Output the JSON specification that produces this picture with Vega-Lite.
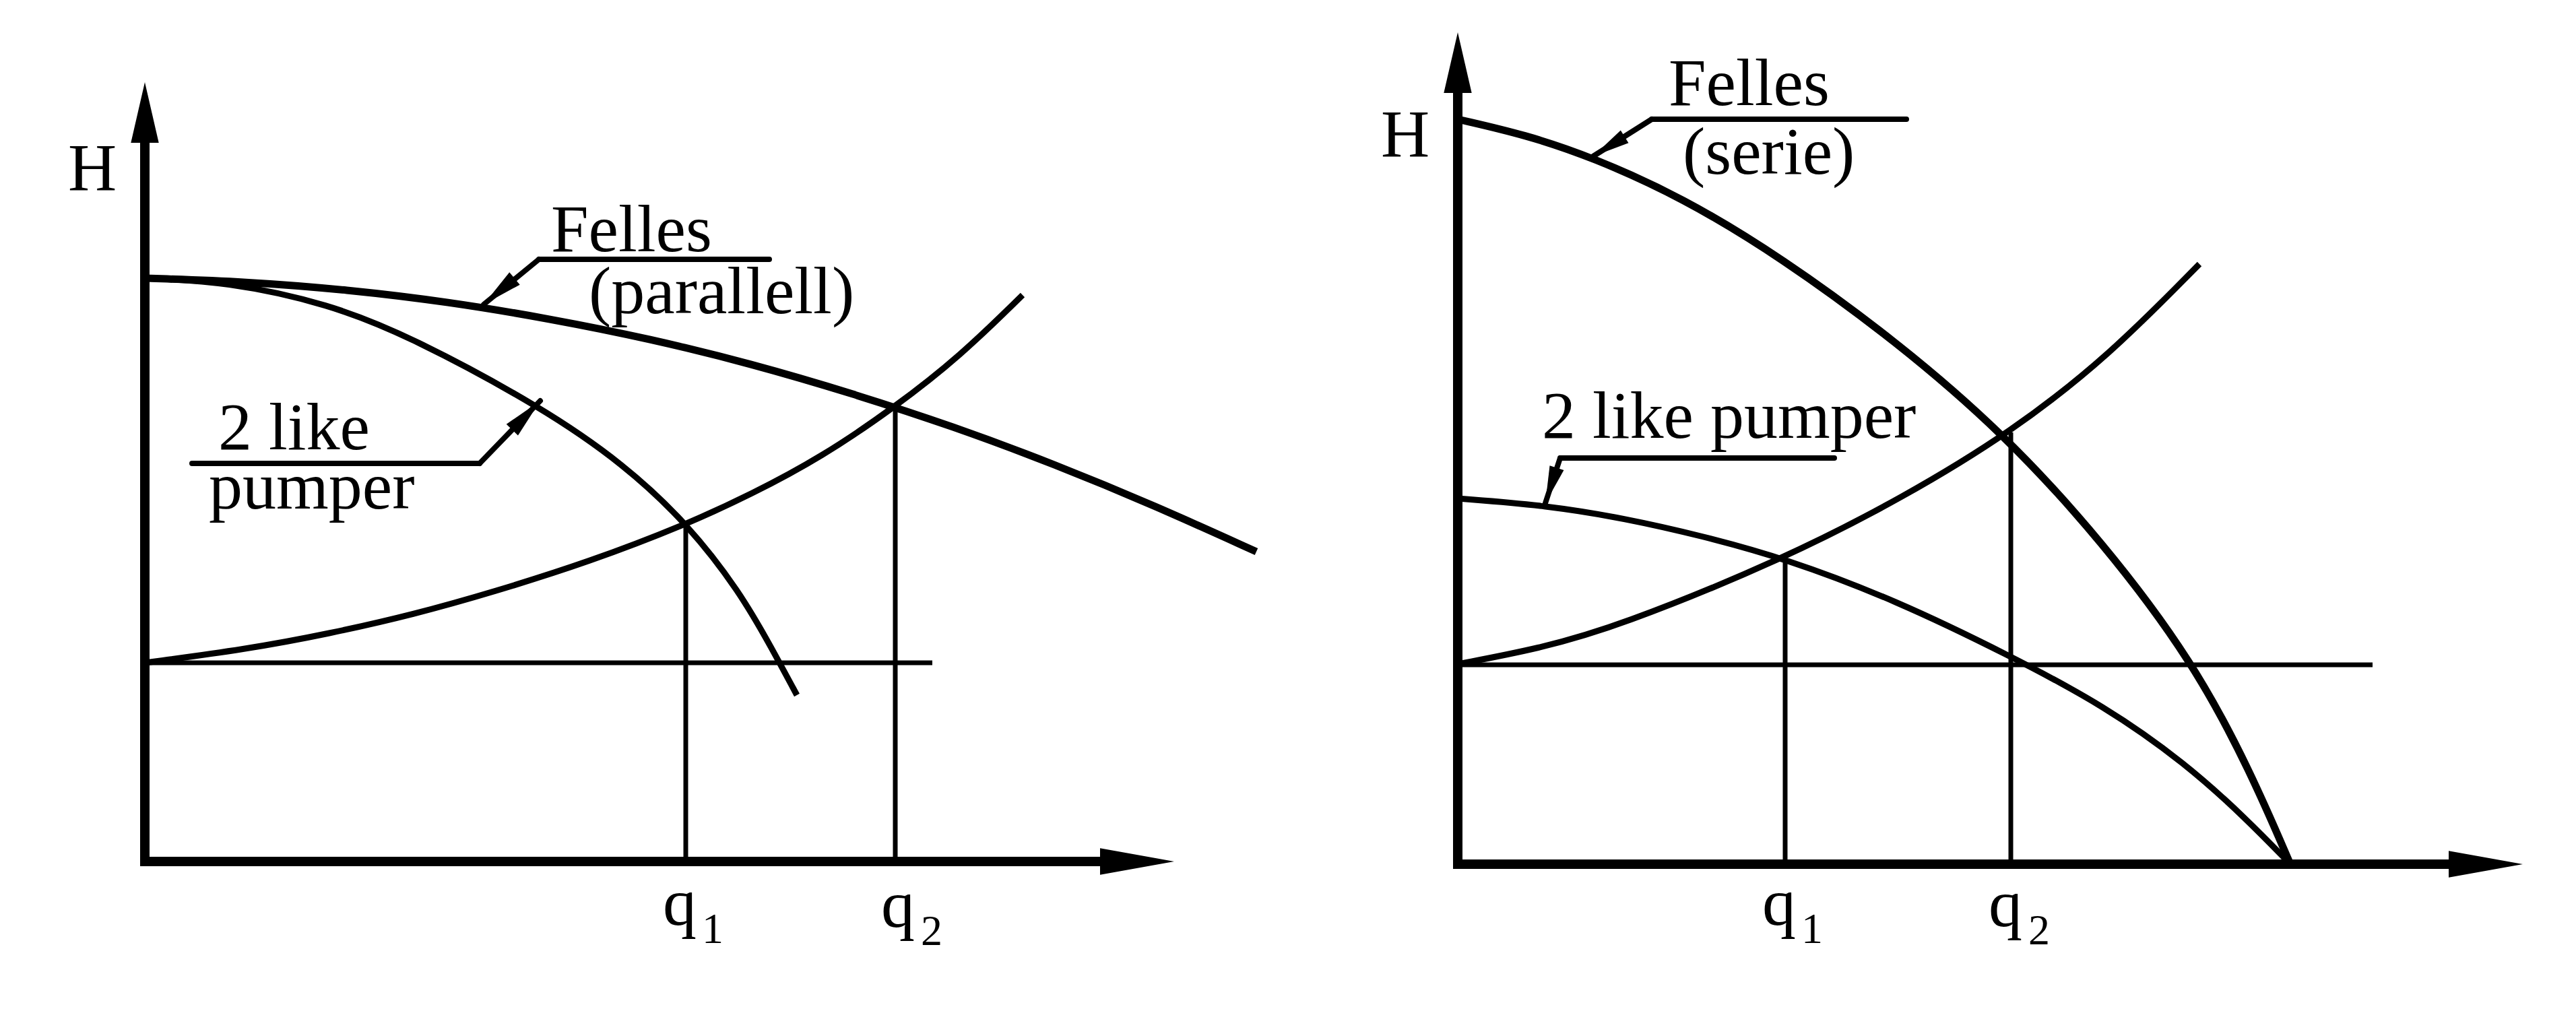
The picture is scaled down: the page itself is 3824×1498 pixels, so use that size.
{
  "$schema": "https://vega.github.io/schema/vega-lite/v6.json",
  "padding": 0,
  "autosize": {"type": "pad"},
  "background": "white",
  "spacing": 0,
  "config": {"view": {"stroke": null}, "concat": {"spacing": 0}},
  "resolve": {"scale": {"x": "independent", "y": "independent"}},
  "datasets": {
    "L_curves": [
      {"curve": "felles", "Q": 0, "H": 8.66}, {"curve": "felles", "Q": 1.5, "H": 8.61}, {"curve": "felles", "Q": 3, "H": 8.49}, {"curve": "felles", "Q": 4.5, "H": 8.31}, {"curve": "felles", "Q": 6, "H": 8.06}, {"curve": "felles", "Q": 7.5, "H": 7.76}, {"curve": "felles", "Q": 9, "H": 7.39}, {"curve": "felles", "Q": 10.5, "H": 6.95}, {"curve": "felles", "Q": 12, "H": 6.46}, {"curve": "felles", "Q": 13.5, "H": 5.90}, {"curve": "felles", "Q": 15, "H": 5.28}, {"curve": "felles", "Q": 16.5, "H": 4.60},
      {"curve": "pump", "Q": 0, "H": 8.66}, {"curve": "pump", "Q": 1.2, "H": 8.61}, {"curve": "pump", "Q": 2.73, "H": 8.28}, {"curve": "pump", "Q": 3.95, "H": 7.79}, {"curve": "pump", "Q": 5.90, "H": 6.74}, {"curve": "pump", "Q": 7.12, "H": 5.89}, {"curve": "pump", "Q": 8.04, "H": 5.03}, {"curve": "pump", "Q": 8.83, "H": 4.01}, {"curve": "pump", "Q": 9.31, "H": 3.16}, {"curve": "pump", "Q": 9.68, "H": 2.47},
      {"curve": "system", "Q": 0, "H": 2.95}, {"curve": "system", "Q": 1.5, "H": 3.15}, {"curve": "system", "Q": 2.73, "H": 3.38}, {"curve": "system", "Q": 4, "H": 3.67}, {"curve": "system", "Q": 5.17, "H": 4.00}, {"curve": "system", "Q": 6.6, "H": 4.45}, {"curve": "system", "Q": 8.03, "H": 5.00}, {"curve": "system", "Q": 9.0, "H": 5.45}, {"curve": "system", "Q": 10.04, "H": 6.00}, {"curve": "system", "Q": 11.14, "H": 6.75}, {"curve": "system", "Q": 12.1, "H": 7.50}, {"curve": "system", "Q": 13.03, "H": 8.41}
    ],
    "L_segs": [
      {"kind": "axis", "Q": 0, "H": 0, "Q2": 0, "H2": 10.75},
      {"kind": "axis", "Q": 0, "H": 0, "Q2": 14.3, "H2": 0},
      {"kind": "guide", "Q": 0, "H": 2.95, "Q2": 11.69, "H2": 2.95},
      {"kind": "guide", "Q": 8.03, "H": 0, "Q2": 8.03, "H2": 5.00},
      {"kind": "guide", "Q": 11.14, "H": 0, "Q2": 11.14, "H2": 6.75},
      {"kind": "leader", "Q": 5.85, "H": 8.94, "Q2": 9.27, "H2": 8.94},
      {"kind": "leader", "Q": 5.85, "H": 8.94, "Q2": 5.03, "H2": 8.27},
      {"kind": "leader", "Q": 0.70, "H": 5.91, "Q2": 4.97, "H2": 5.91},
      {"kind": "leader", "Q": 4.97, "H": 5.91, "Q2": 5.87, "H2": 6.84}
    ],
    "L_arrows": [
      {"kind": "yaxis", "Q": 0, "H": 11.57, "angle": 0},
      {"kind": "xaxis", "Q": 15.28, "H": 0, "angle": 0},
      {"kind": "leader", "Q": 5.03, "H": 8.27, "angle": 230},
      {"kind": "leader", "Q": 5.87, "H": 6.84, "angle": 44}
    ],
    "L_text": [
      {"t": "H", "Q": -1.14, "H": 9.97, "role": "main"},
      {"t": "q", "Q": 7.69, "H": -0.94, "role": "main"},
      {"t": "1", "Q": 8.27, "H": -1.21, "role": "sub"},
      {"t": "q", "Q": 10.93, "H": -0.97, "role": "main"},
      {"t": "2", "Q": 11.52, "H": -1.24, "role": "sub"},
      {"t": "Felles", "Q": 6.03, "H": 9.06, "role": "main"},
      {"t": "(parallell)", "Q": 6.59, "H": 8.14, "role": "main"},
      {"t": "2 like", "Q": 1.09, "H": 6.12, "role": "main"},
      {"t": "pumper", "Q": 0.95, "H": 5.24, "role": "main"}
    ],
    "R_curves": [
      {"curve": "felles", "Q": 0, "H": 11.06}, {"curve": "felles", "Q": 1.0, "H": 10.83}, {"curve": "felles", "Q": 1.99, "H": 10.50}, {"curve": "felles", "Q": 3.33, "H": 9.90}, {"curve": "felles", "Q": 4.80, "H": 9.01}, {"curve": "felles", "Q": 6.50, "H": 7.77}, {"curve": "felles", "Q": 8.09, "H": 6.41}, {"curve": "felles", "Q": 9.58, "H": 4.78}, {"curve": "felles", "Q": 10.92, "H": 3.00}, {"curve": "felles", "Q": 11.77, "H": 1.37}, {"curve": "felles", "Q": 12.36, "H": 0},
      {"curve": "pump", "Q": 0, "H": 5.43}, {"curve": "pump", "Q": 1.3, "H": 5.33}, {"curve": "pump", "Q": 2.5, "H": 5.13}, {"curve": "pump", "Q": 3.6, "H": 4.88}, {"curve": "pump", "Q": 4.86, "H": 4.54}, {"curve": "pump", "Q": 6.5, "H": 3.92}, {"curve": "pump", "Q": 8.21, "H": 3.09}, {"curve": "pump", "Q": 9.6, "H": 2.35}, {"curve": "pump", "Q": 10.8, "H": 1.50}, {"curve": "pump", "Q": 11.7, "H": 0.68}, {"curve": "pump", "Q": 12.36, "H": 0},
      {"curve": "system", "Q": 0, "H": 2.97}, {"curve": "system", "Q": 1.2, "H": 3.20}, {"curve": "system", "Q": 2.36, "H": 3.52}, {"curve": "system", "Q": 4.86, "H": 4.54}, {"curve": "system", "Q": 6.62, "H": 5.45}, {"curve": "system", "Q": 8.21, "H": 6.41}, {"curve": "system", "Q": 9.67, "H": 7.55}, {"curve": "system", "Q": 11.01, "H": 8.91}
    ],
    "R_segs": [
      {"kind": "axis", "Q": 0, "H": 0, "Q2": 0, "H2": 11.5},
      {"kind": "axis", "Q": 0, "H": 0, "Q2": 14.8, "H2": 0},
      {"kind": "guide", "Q": 0, "H": 2.96, "Q2": 13.58, "H2": 2.96},
      {"kind": "guide", "Q": 4.86, "H": 0, "Q2": 4.86, "H2": 4.54},
      {"kind": "guide", "Q": 8.21, "H": 0, "Q2": 8.21, "H2": 6.41},
      {"kind": "leader", "Q": 2.88, "H": 11.06, "Q2": 6.66, "H2": 11.06},
      {"kind": "leader", "Q": 2.88, "H": 11.06, "Q2": 2.01, "H2": 10.51},
      {"kind": "leader", "Q": 1.52, "H": 6.03, "Q2": 5.59, "H2": 6.03},
      {"kind": "leader", "Q": 1.52, "H": 6.03, "Q2": 1.30, "H2": 5.36}
    ],
    "R_arrows": [
      {"kind": "yaxis", "Q": 0, "H": 12.35, "angle": 0},
      {"kind": "xaxis", "Q": 15.81, "H": 0, "angle": 0},
      {"kind": "leader", "Q": 2.01, "H": 10.51, "angle": 238},
      {"kind": "leader", "Q": 1.30, "H": 5.36, "angle": 198}
    ],
    "R_text": [
      {"t": "H", "Q": -1.14, "H": 10.51, "role": "main"},
      {"t": "q", "Q": 4.52, "H": -0.90, "role": "main"},
      {"t": "1", "Q": 5.10, "H": -1.17, "role": "sub"},
      {"t": "q", "Q": 7.88, "H": -0.92, "role": "main"},
      {"t": "2", "Q": 8.47, "H": -1.19, "role": "sub"},
      {"t": "Felles", "Q": 3.13, "H": 11.27, "role": "main"},
      {"t": "(serie)", "Q": 3.34, "H": 10.25, "role": "main"},
      {"t": "2 like pumper", "Q": 1.25, "H": 6.33, "role": "main"}
    ]
  },
  "hconcat": [
    {
      "width": 1912,
      "height": 1498,
      "encoding": {
        "x": {"field": "Q", "type": "quantitative", "scale": {"domain": [-2.15, 16.97], "nice": false, "zero": false}, "axis": null},
        "y": {"field": "H", "type": "quantitative", "scale": {"domain": [-2.19, 12.79], "nice": false, "zero": false}, "axis": null}
      },
      "layer": [
        {"data": {"name": "L_curves"}, "transform": [{"filter": "datum.curve === 'felles'"}], "mark": {"type": "line", "interpolate": "basis", "strokeWidth": 11, "color": "black"}, "encoding": {"detail": {"field": "curve"}}},
        {"data": {"name": "L_curves"}, "transform": [{"filter": "datum.curve !== 'felles'"}], "mark": {"type": "line", "interpolate": "basis", "strokeWidth": 9, "color": "black"}, "encoding": {"detail": {"field": "curve"}}},
        {"data": {"name": "L_segs"}, "transform": [{"filter": "datum.kind === 'axis'"}], "mark": {"type": "rule", "strokeWidth": 14, "color": "black", "strokeCap": "square"}, "encoding": {"x2": {"field": "Q2"}, "y2": {"field": "H2"}}},
        {"data": {"name": "L_segs"}, "transform": [{"filter": "datum.kind === 'guide'"}], "mark": {"type": "rule", "strokeWidth": 7, "color": "black"}, "encoding": {"x2": {"field": "Q2"}, "y2": {"field": "H2"}}},
        {"data": {"name": "L_segs"}, "transform": [{"filter": "datum.kind === 'leader'"}], "mark": {"type": "rule", "strokeWidth": 8, "color": "black", "strokeCap": "round"}, "encoding": {"x2": {"field": "Q2"}, "y2": {"field": "H2"}}},
        {"data": {"name": "L_arrows"}, "transform": [{"filter": "datum.kind === 'yaxis'"}], "mark": {"type": "point", "filled": true, "opacity": 1, "color": "black", "strokeWidth": 0, "shape": "M0,0 L0.46,2 L-0.46,2 Z", "size": 8100}},
        {"data": {"name": "L_arrows"}, "transform": [{"filter": "datum.kind === 'xaxis'"}], "mark": {"type": "point", "filled": true, "opacity": 1, "color": "black", "strokeWidth": 0, "shape": "M0,0 L-2,-0.36 L-2,0.36 Z", "size": 12100}},
        {"data": {"name": "L_arrows"}, "transform": [{"filter": "datum.kind === 'leader'"}], "mark": {"type": "point", "filled": true, "opacity": 1, "color": "black", "strokeWidth": 0, "shape": "M0,0 L0.4,2 L-0.4,2 Z", "size": 3600}, "encoding": {"angle": {"field": "angle", "type": "quantitative", "scale": null}}},
        {"data": {"name": "L_text"}, "transform": [{"filter": "datum.role === 'main'"}], "mark": {"type": "text", "align": "left", "baseline": "alphabetic", "font": "Liberation Serif", "fontSize": 100, "color": "black"}, "encoding": {"text": {"field": "t"}}},
        {"data": {"name": "L_text"}, "transform": [{"filter": "datum.role === 'sub'"}], "mark": {"type": "text", "align": "left", "baseline": "alphabetic", "font": "Liberation Serif", "fontSize": 64, "color": "black"}, "encoding": {"text": {"field": "t"}}}
      ]
    },
    {
      "width": 1912,
      "height": 1498,
      "encoding": {
        "x": {"field": "Q", "type": "quantitative", "scale": {"domain": [-2.52, 16.60], "nice": false, "zero": false}, "axis": null},
        "y": {"field": "H", "type": "quantitative", "scale": {"domain": [-2.15, 12.83], "nice": false, "zero": false}, "axis": null}
      },
      "layer": [
        {"data": {"name": "R_curves"}, "transform": [{"filter": "datum.curve === 'felles'"}], "mark": {"type": "line", "interpolate": "basis", "strokeWidth": 11, "color": "black"}, "encoding": {"detail": {"field": "curve"}}},
        {"data": {"name": "R_curves"}, "transform": [{"filter": "datum.curve !== 'felles'"}], "mark": {"type": "line", "interpolate": "basis", "strokeWidth": 9, "color": "black"}, "encoding": {"detail": {"field": "curve"}}},
        {"data": {"name": "R_segs"}, "transform": [{"filter": "datum.kind === 'axis'"}], "mark": {"type": "rule", "strokeWidth": 14, "color": "black", "strokeCap": "square"}, "encoding": {"x2": {"field": "Q2"}, "y2": {"field": "H2"}}},
        {"data": {"name": "R_segs"}, "transform": [{"filter": "datum.kind === 'guide'"}], "mark": {"type": "rule", "strokeWidth": 7, "color": "black"}, "encoding": {"x2": {"field": "Q2"}, "y2": {"field": "H2"}}},
        {"data": {"name": "R_segs"}, "transform": [{"filter": "datum.kind === 'leader'"}], "mark": {"type": "rule", "strokeWidth": 8, "color": "black", "strokeCap": "round"}, "encoding": {"x2": {"field": "Q2"}, "y2": {"field": "H2"}}},
        {"data": {"name": "R_arrows"}, "transform": [{"filter": "datum.kind === 'yaxis'"}], "mark": {"type": "point", "filled": true, "opacity": 1, "color": "black", "strokeWidth": 0, "shape": "M0,0 L0.46,2 L-0.46,2 Z", "size": 8100}},
        {"data": {"name": "R_arrows"}, "transform": [{"filter": "datum.kind === 'xaxis'"}], "mark": {"type": "point", "filled": true, "opacity": 1, "color": "black", "strokeWidth": 0, "shape": "M0,0 L-2,-0.36 L-2,0.36 Z", "size": 12100}},
        {"data": {"name": "R_arrows"}, "transform": [{"filter": "datum.kind === 'leader'"}], "mark": {"type": "point", "filled": true, "opacity": 1, "color": "black", "strokeWidth": 0, "shape": "M0,0 L0.4,2 L-0.4,2 Z", "size": 3025}, "encoding": {"angle": {"field": "angle", "type": "quantitative", "scale": null}}},
        {"data": {"name": "R_text"}, "transform": [{"filter": "datum.role === 'main'"}], "mark": {"type": "text", "align": "left", "baseline": "alphabetic", "font": "Liberation Serif", "fontSize": 100, "color": "black"}, "encoding": {"text": {"field": "t"}}},
        {"data": {"name": "R_text"}, "transform": [{"filter": "datum.role === 'sub'"}], "mark": {"type": "text", "align": "left", "baseline": "alphabetic", "font": "Liberation Serif", "fontSize": 64, "color": "black"}, "encoding": {"text": {"field": "t"}}}
      ]
    }
  ]
}
